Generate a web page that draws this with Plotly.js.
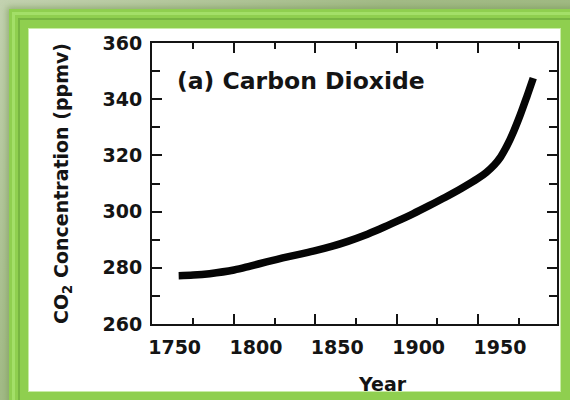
<!DOCTYPE html>
<html>
<head>
<meta charset="utf-8">
<script src="https://cdn.plot.ly/plotly-3.0.1.min.js"></script>
<style>
  html, body { margin:0; padding:0; width:570px; height:400px; overflow:hidden; background:#a9bf8f; }
  #shadow { position:absolute; left:0; top:0; width:570px; height:400px;
            background: linear-gradient(135deg, #c3d2b0 0%, #a3bb86 40%, #9cb77c 100%); }
  #white { position:absolute; left:28px; top:28px; width:533px; height:364px; background:#ffffff; }
  #chart { position:absolute; left:0; top:0; width:570px; height:400px; }
  #frame { position:absolute; left:9px; top:9px; width:570px; height:400px; box-sizing:border-box;
           border-style:solid; border-color:#8fcf4f; border-width:19px 18px 17px 19px;
           box-shadow: inset 0 0 0 1px #c9eca6, 0 0 6px 2px rgba(120,150,90,0.6); pointer-events:none; }
  #frame2 { position:absolute; left:18px; top:18px; width:570px; height:400px; box-sizing:border-box;
           border-style:solid; border-color:#77b541; border-width:2px 2px 2px 2px; pointer-events:none; }
  #frame3 { position:absolute; left:12px; top:12px; width:570px; height:400px; box-sizing:border-box;
           border-style:solid; border-color:#a3df68; border-width:3px 3px 3px 3px; pointer-events:none; }
</style>
</head>
<body>
<div id="shadow"></div>
<div id="white"></div>
<div id="chart"></div>
<div id="frame"></div>
<div id="frame3"></div>
<div id="frame2"></div>
<script>
// Data (year, CO2 ppmv)
var years = [1766, 1775, 1785, 1800, 1810, 1820, 1830, 1840, 1850, 1860, 1870, 1880, 1890,
             1900, 1910, 1920, 1930, 1940, 1950, 1955, 1960, 1964, 1968, 1972, 1976, 1980, 1984];
var co2   = [277.2, 277.4, 277.9, 279.2, 280.6, 282.1, 283.5, 284.8, 286.1, 287.6, 289.4, 291.5, 293.9,
             296.5, 299.2, 302.1, 305.1, 308.3, 311.8, 313.9, 316.6, 319.5, 323.6, 328.6, 334.4, 340.8, 347.5];

var xTickVals  = [1750, 1800, 1850, 1900, 1950];
var xTickText  = ["1750", "1800", "1850", "1900", "1950"];
var xMinorVals = [1775, 1825, 1875, 1925, 1975];
var yTickVals  = [260, 280, 300, 320, 340, 360];
var yTickText  = ["260", "280", "300", "320", "340", "360"];
var yMinorVals = [270, 290, 310, 330, 350];

var panelTitle = "(a) Carbon Dioxide";
var xTitle = "Year";
var yTitle = "CO<sub>2</sub> Concentration (ppmv)";

var ink = "#141414";
var fnt = {family: "DejaVu Sans, Verdana, sans-serif", size: 19, color: ink, weight: 700};

var trace = {
  x: years, y: co2, type: "scatter", mode: "lines",
  line: {color: "#050505", width: 7.5, shape: "spline", smoothing: 1},
  hoverinfo: "skip", showlegend: false
};

var layout = {
  width: 570, height: 400,
  margin: {l: 152, r: 13, t: 43, b: 76, pad: 0},
  paper_bgcolor: "rgba(0,0,0,0)",
  plot_bgcolor: "rgba(0,0,0,0)",
  showlegend: false,
  font: fnt,
  xaxis: {
    range: [1749.6, 1998.6], autorange: false,
    tickmode: "array", tickvals: xTickVals, ticktext: xTickText,
    ticks: "inside", ticklen: 10, tickwidth: 2, tickcolor: ink,
    ticklabelshift: 22, ticklabelstandoff: 5,
    minor: {tickmode: "array", tickvals: xMinorVals, ticks: "inside", ticklen: 6, tickwidth: 2, tickcolor: ink, showgrid: false},
    showline: true, linewidth: 2, linecolor: ink, mirror: "ticks",
    showgrid: false, zeroline: false, tickfont: fnt, automargin: false
  },
  yaxis: {
    range: [260, 360], autorange: false,
    tickmode: "array", tickvals: yTickVals, ticktext: yTickText,
    ticks: "inside", ticklen: 10, tickwidth: 2, tickcolor: ink,
    ticklabelstandoff: 4,
    minor: {tickmode: "array", tickvals: yMinorVals, ticks: "inside", ticklen: 8, tickwidth: 2, tickcolor: ink, showgrid: false},
    showline: true, linewidth: 2, linecolor: ink, mirror: "ticks",
    showgrid: false, zeroline: false, tickfont: fnt, automargin: false,
    title: {text: yTitle, font: fnt, standoff: 29}
  },
  annotations: [
    {text: panelTitle, xref: "paper", yref: "paper", x: 0.057, y: 0.865,
     xanchor: "left", yanchor: "middle", showarrow: false,
     font: {family: "DejaVu Sans, Verdana, sans-serif", size: 23.5, color: ink, weight: 700}},
    {text: xTitle, xref: "paper", yref: "paper", x: 0.568, y: -0.215,
     xanchor: "center", yanchor: "middle", showarrow: false, font: fnt}
  ]
};

Plotly.newPlot("chart", [trace], layout, {staticPlot: true, displayModeBar: false});
</script>
</body>
</html>
